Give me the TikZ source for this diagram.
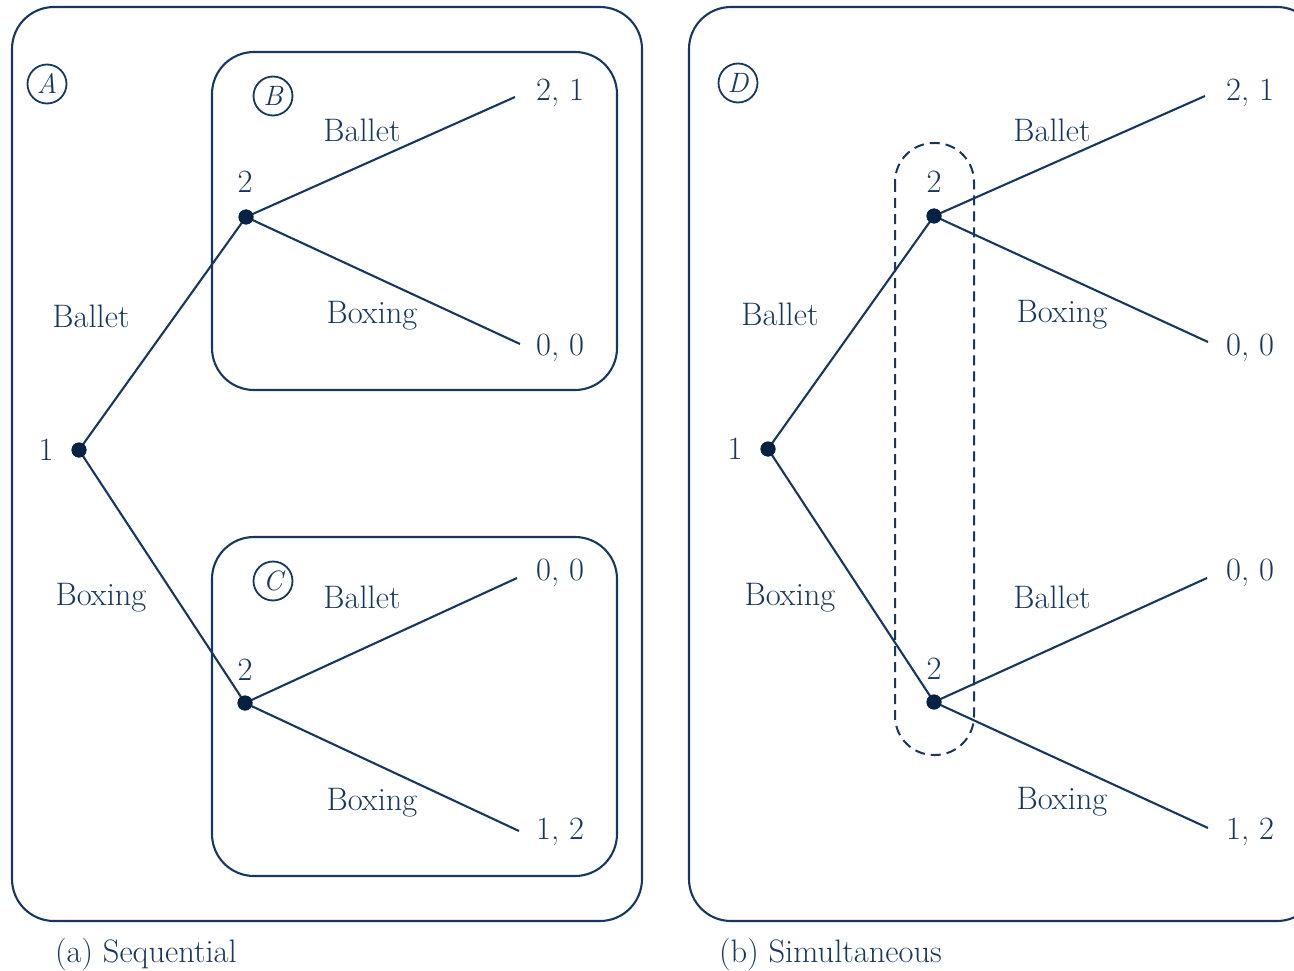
\documentclass[tikz,border=0pt]{standalone}
\usepackage{fontspec}
\begin{document}
\definecolor{navy}{RGB}{22,56,96}
\definecolor{dotc}{RGB}{6,34,66}
\begin{tikzpicture}[x=1pt,y=-1pt,
  every node/.style={text=navy,font=\fontsize{32.5}{38}\selectfont},
  box/.style={draw=navy,line width=2.1pt,rounded corners=42pt},
  edge/.style={draw=navy,line width=2.1pt},
  dot/.style={circle,fill=dotc,inner sep=0pt,minimum size=15pt},
  pay/.style={anchor=west,inner sep=0pt},
  tag/.style={circle,draw=navy,line width=1.8pt,inner sep=0pt,minimum size=39pt,font=\fontsize{28}{32}\selectfont\itshape},
  infoset/.style={draw=navy,line width=2pt,dash pattern=on 10pt off 6pt,rounded corners=39pt}]
\useasboundingbox (0,0) rectangle (1294,971);
% boxes
\draw[box] (12,7) rectangle (642,921);
\draw[box] (212,52) rectangle (617,390);
\draw[box] (212,537) rectangle (617,876);
\draw[box] (689,7) rectangle (1319,921);
\node[tag] (tA) at (47,84) {A};
\node[tag] (tB) at (273,96) {B};
\node[tag] (tC) at (273,581) {C};
\node[tag] (tD) at (738,83) {D};
% ---------- left tree ----------
\node[dot] (L1) at (79,450) {};
\node (L1l) at (46,450) {1};
\node[dot] (L2a) at (246,217) {};
\node (L2al) at (245,182) {2};
\node[dot] (L2b) at (245,703) {};
\node (L2bl) at (245,670) {2};
\coordinate (La1) at (515,97);
\coordinate (La2) at (520,344);
\coordinate (Lb1) at (517,578);
\coordinate (Lb2) at (519,831);
\node[pay] (pLa1) at (536,93) {2, 1};
\node[pay] (pLa2) at (536,348) {0, 0};
\node[pay] (pLb1) at (536,573) {0, 0};
\node[pay] (pLb2) at (536,832) {1, 2};
\draw[edge] (L1.center) -- (L2a.center);
\draw[edge] (L1.center) -- (L2b.center);
\draw[edge] (L2a.center) -- (La1);
\draw[edge] (L2a.center) -- (La2);
\draw[edge] (L2b.center) -- (Lb1);
\draw[edge] (L2b.center) -- (Lb2);
\node[dot] at (L1) {};
\node[dot] at (L2a) {};
\node[dot] at (L2b) {};
\node (Lt1) at (91,316) {Ballet};
\node (Lt2) at (101,598) {Boxing};
\node (Lt3) at (362,130) {Ballet};
\node (Lt4) at (372,316) {Boxing};
\node (Lt5) at (362,597) {Ballet};
\node (Lt6) at (372,803) {Boxing};
% ---------- right tree ----------
\draw[infoset] (895,143) rectangle (974,755);
\node[dot] (R1) at (768,449) {};
\node (R1l) at (735,449) {1};
\node[dot] (R2a) at (934,216) {};
\node (R2al) at (934,182) {2};
\node[dot] (R2b) at (934,702) {};
\node (R2bl) at (934,669) {2};
\coordinate (Ra1) at (1205,96);
\coordinate (Ra2) at (1208,342);
\coordinate (Rb1) at (1207,578);
\coordinate (Rb2) at (1208,828);
\node[pay] (pRa1) at (1226,93) {2, 1};
\node[pay] (pRa2) at (1226,348) {0, 0};
\node[pay] (pRb1) at (1226,573) {0, 0};
\node[pay] (pRb2) at (1226,832) {1, 2};
\draw[edge] (R1.center) -- (R2a.center);
\draw[edge] (R1.center) -- (R2b.center);
\draw[edge] (R2a.center) -- (Ra1);
\draw[edge] (R2a.center) -- (Ra2);
\draw[edge] (R2b.center) -- (Rb1);
\draw[edge] (R2b.center) -- (Rb2);
\node[dot] at (R1) {};
\node[dot] at (R2a) {};
\node[dot] at (R2b) {};
\node (Rt1) at (780,314) {Ballet};
\node (Rt2) at (790,598) {Boxing};
\node (Rt3) at (1052,130) {Ballet};
\node (Rt4) at (1062,315) {Boxing};
\node (Rt5) at (1052,597) {Ballet};
\node (Rt6) at (1062,802) {Boxing};
% captions
\node[anchor=west,inner sep=0pt] (capA) at (55,954) {(a) Sequential};
\node[anchor=west,inner sep=0pt] (capB) at (719,954) {(b) Simultaneous};
\end{tikzpicture}
\end{document}
